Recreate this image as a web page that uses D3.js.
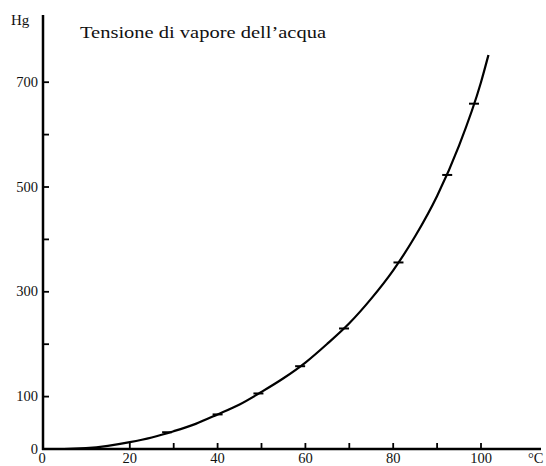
<!DOCTYPE html>
<html>
<head>
<meta charset="utf-8">
<script src="https://cdn.jsdelivr.net/npm/d3@7"></script>
<style>
  body { margin: 0; background: #fff; }
  text { font-family: "Liberation Serif", "DejaVu Serif", serif; fill: #111; }
</style>
</head>
<body>
<svg id="ch" width="546" height="466"></svg>
<script>
// temperatura (°C) e tensione di vapore (mm Hg)
var curveT = [0, 5, 10, 15, 20, 25, 30, 35, 40, 45, 50, 55, 60, 65, 70, 75, 80, 85, 90, 95, 100, 101.7];
var curveP = [0, 0, 1.5, 6, 13, 22, 34, 48, 66, 85, 109, 135, 165, 201, 240, 287, 341, 406, 483, 579, 700, 752];
var puntiT = [28.5, 40, 49.3, 58.8, 68.8, 81.2, 92.3, 98.4];
var puntiP = [32, 66, 106, 158, 230, 356, 523, 659];
var xTicks = [20, 30, 40, 50, 60, 70, 80, 90, 100];
var xLabels = [0, 20, 40, 60, 80, 100];
var yTicks = [100, 200, 300, 400, 500, 600, 700];
var yLabels = [0, 100, 300, 500, 700];

var svg = d3.select("#ch");
var x = d3.scaleLinear().domain([0, 100]).range([42, 481]);
var y = d3.scaleLinear().domain([0, 700]).range([449, 82.2]);

// assi
svg.append("line")
    .attr("x1", x(0)).attr("x2", 541)
    .attr("y1", y(0)).attr("y2", y(0))
    .attr("stroke", "#000").attr("stroke-width", 2.5);
svg.append("line")
    .attr("x1", x(0) + 1).attr("x2", x(0) + 1)
    .attr("y1", y(0) + 1).attr("y2", 15)
    .attr("stroke", "#000").attr("stroke-width", 2.5);

svg.selectAll(".xt").data(xTicks).enter().append("line")
    .attr("x1", function (d) { return x(d); }).attr("x2", function (d) { return x(d); })
    .attr("y1", y(0)).attr("y2", y(0) - 6)
    .attr("stroke", "#000").attr("stroke-width", 1.8);
svg.selectAll(".yt").data(yTicks).enter().append("line")
    .attr("x1", x(0)).attr("x2", x(0) + 7)
    .attr("y1", function (d) { return y(d); }).attr("y2", function (d) { return y(d); })
    .attr("stroke", "#000").attr("stroke-width", 1.8);

svg.selectAll(".xl").data(xLabels).enter().append("text")
    .attr("x", function (d) { return x(d); })
    .attr("y", 463)
    .attr("text-anchor", "middle")
    .style("font-size", "14.5px")
    .text(function (d) { return d; });
svg.selectAll(".yl").data(yLabels).enter().append("text")
    .attr("x", 38)
    .attr("y", function (d) { return y(d) + 4.5; })
    .attr("text-anchor", "end")
    .style("font-size", "14.5px")
    .text(function (d) { return d; });

svg.append("text").attr("x", 11).attr("y", 25).style("font-size", "15px").text("Hg");
svg.append("text").attr("x", 528).attr("y", 463).style("font-size", "14.5px").text("°C");
svg.append("text").attr("x", 80).attr("y", 38).style("font-size", "17.5px")
    .attr("textLength", 246).attr("lengthAdjust", "spacingAndGlyphs")
    .text("Tensione di vapore dell’acqua");

// curva
var curva = curveT.map(function (t, i) { return [t, curveP[i]]; });
var line = d3.line()
    .x(function (d) { return x(d[0]); })
    .y(function (d) { return y(d[1]); })
    .curve(d3.curveMonotoneX);
svg.append("path")
    .attr("d", line(curva))
    .attr("fill", "none")
    .attr("stroke", "#000")
    .attr("stroke-width", 2.2);

// punti misurati
svg.selectAll(".pt").data(puntiT).enter().append("line")
    .attr("x1", function (d) { return x(d) - 5; })
    .attr("x2", function (d) { return x(d) + 5; })
    .attr("y1", function (d, i) { return y(puntiP[i]); })
    .attr("y2", function (d, i) { return y(puntiP[i]); })
    .attr("stroke", "#000").attr("stroke-width", 2);
</script>
</body>
</html>
